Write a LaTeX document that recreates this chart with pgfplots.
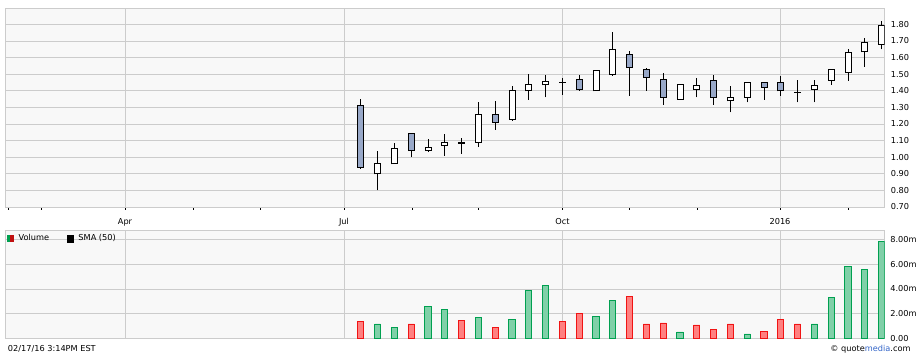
\documentclass[border=0pt]{standalone}
\usepackage{fontspec}
\setmainfont{DejaVu Sans}
\usepackage{pgfplots}
\usepackage{pgfplotstable}
\pgfplotsset{compat=1.18}
\definecolor{bgc}{RGB}{248,248,248}
\definecolor{gridc}{RGB}{204,204,204}
\definecolor{candleblue}{RGB}{152,168,200}
\definecolor{volrfill}{RGB}{255,128,128}
\definecolor{volrdraw}{RGB}{240,20,20}
\definecolor{volgfill}{RGB}{128,208,168}
\definecolor{volgdraw}{RGB}{0,160,80}
\definecolor{qmblue}{RGB}{50,100,200}
\newcommand\lab{\fontsize{8.2}{9.5}\selectfont}

% x = horizontal position (weekly candles), o h l c = open high low close, t: 0 up, 1 down, 2 doji
\pgfplotstableread{
x     o     h     l     c     t
360.8 1.31  1.35  0.93  0.94  1
377.6 0.90  1.04  0.80  0.96  0
394.4 0.96  1.085 0.96  1.05  0
411.2 1.14  1.14  1.00  1.04  1
428.0 1.04  1.11  1.03  1.06  0
444.8 1.07  1.14  1.01  1.09  0
461.6 1.085 1.115 1.02  1.09  2
478.4 1.09  1.33  1.06  1.26  0
495.2 1.26  1.34  1.165 1.21  1
512.0 1.23  1.43  1.22  1.40  0
528.8 1.40  1.50  1.345 1.435 0
545.6 1.435 1.495 1.36  1.455 0
562.4 1.45  1.48  1.375 1.45  2
579.2 1.47  1.495 1.40  1.41  1
596.0 1.40  1.52  1.40  1.52  0
612.8 1.50  1.755 1.49  1.65  0
629.6 1.62  1.64  1.37  1.54  1
646.4 1.53  1.54  1.40  1.48  1
663.2 1.47  1.51  1.315 1.36  1
680.0 1.35  1.44  1.35  1.44  0
696.8 1.41  1.48  1.36  1.43  0
713.6 1.46  1.495 1.315 1.36  1
730.4 1.34  1.43  1.27  1.36  0
747.2 1.36  1.45  1.33  1.45  0
764.0 1.45  1.45  1.345 1.42  1
780.8 1.45  1.49  1.37  1.40  1
797.6 1.39  1.465 1.33  1.39  2
814.4 1.41  1.465 1.33  1.43  0
831.2 1.465 1.53  1.435 1.53  0
848.0 1.51  1.65  1.46  1.63  0
864.8 1.635 1.72  1.545 1.69  0
881.6 1.68  1.82  1.65  1.795 0
}\candles

% volume in millions
\pgfplotstableread{
x     v
360.8 1.40
411.2 1.16
461.6 1.45
495.2 0.89
562.4 1.40
579.2 2.04
629.6 3.41
646.4 1.16
663.2 1.24
696.8 1.08
713.6 0.75
730.4 1.16
764.0 0.59
780.8 1.56
797.6 1.16
}\volred

\pgfplotstableread{
x     v
377.6 1.16
394.4 0.91
428.0 2.61
444.8 2.37
478.4 1.69
512.0 1.53
528.8 3.87
545.6 4.30
596.0 1.80
612.8 3.06
680.0 0.51
747.2 0.35
814.4 1.16
831.2 3.33
848.0 5.83
864.8 5.59
881.6 7.82
}\volgreen

\begin{document}
\begin{tikzpicture}
\useasboundingbox (0,0) rectangle (920pt,358pt);

% ---------- price panel ----------
\begin{axis}[
  at={(5.5pt,151pt)}, anchor=south west,
  scale only axis, width=879.2pt, height=198.7pt,
  xmin=5.5, xmax=884.7, ymin=0.70, ymax=1.897,
  axis background/.style={fill=bgc},
  axis line style={draw=gridc, line width=0.8pt},
  grid style={draw=gridc, line width=0.8pt},
  ymajorgrids, xmajorgrids,
  ytick={0.7,0.8,0.9,1.0,1.1,1.2,1.3,1.4,1.5,1.6,1.7,1.8},
  yticklabels={0.70,0.80,0.90,1.00,1.10,1.20,1.30,1.40,1.50,1.60,1.70,1.80},
  yticklabel pos=right,
  yticklabel style={anchor=west, inner sep=0pt, xshift=6pt, font=\lab},
  ytick style={draw=none},
  xtick={125,344,562.5,780},
  xticklabels={Apr,Jul,Oct,2016},
  minor xtick={8,41,193,260,412,478,629,697,848},
  xtick pos=left, xtick align=outside,
  major tick length=3pt, minor tick length=3pt,
  xtick style={draw=black, line width=0.8pt},
  minor x tick style={draw=black, line width=0.8pt},
  xticklabel style={anchor=base, inner sep=0pt, yshift=-14.5pt, font=\lab},
  every axis plot/.append style={draw=none, mark=none},
]
% wicks
\addplot[draw=none, mark=none, error bars/.cd, y dir=plus, y explicit, error mark=none,
  error bar style={draw=black, line width=1pt}]
  table[x=x, y=l, y error plus expr=\thisrow{h}-\thisrow{l}] {\candles};
% body outlines
\addplot[draw=none, mark=none, error bars/.cd, y dir=plus, y explicit, error mark=none,
  error bar style={draw=black, line width=7pt}]
  table[x=x, y expr={min(\thisrow{o},\thisrow{c})-0.003},
        y error plus expr={abs(\thisrow{c}-\thisrow{o})+0.006}] {\candles};
% up bodies
\addplot[draw=none, mark=none, restrict expr to domain={\thisrow{t}}{0:0},
  error bars/.cd, y dir=plus, y explicit, error mark=none,
  error bar style={draw=white, line width=5pt}]
  table[x=x, y expr={\thisrow{o}+0.003},
        y error plus expr={\thisrow{c}-\thisrow{o}-0.006}] {\candles};
% down bodies
\addplot[draw=none, mark=none, restrict expr to domain={\thisrow{t}}{1:1},
  error bars/.cd, y dir=plus, y explicit, error mark=none,
  error bar style={draw=candleblue, line width=5pt}]
  table[x=x, y expr={\thisrow{c}+0.003},
        y error plus expr={\thisrow{o}-\thisrow{c}-0.006}] {\candles};
\end{axis}

% ---------- volume panel ----------
\begin{axis}[
  at={(5.5pt,19.7pt)}, anchor=south west,
  scale only axis, width=879.2pt, height=107.8pt,
  xmin=5.5, xmax=884.7, ymin=0, ymax=8.73,
  axis background/.style={fill=bgc},
  axis line style={draw=gridc, line width=0.8pt},
  grid style={draw=gridc, line width=0.8pt},
  ymajorgrids, xmajorgrids,
  xtick={125,344,562.5,780}, xticklabels={},
  xtick style={draw=none},
  ytick={0,2,4,6,8},
  yticklabels={0.00,2.00m,4.00m,6.00m,8.00m},
  yticklabel pos=right,
  yticklabel style={anchor=west, inner sep=0pt, xshift=5.5pt, font=\lab},
  ytick style={draw=none},
  ybar, bar width=6.2pt, bar shift=0pt,
  legend columns=2,
  legend style={at={(0,1)}, anchor=north west, xshift=1.5pt, yshift=-2.5pt,
    draw=none, fill=none, inner sep=0pt, font=\lab,
    nodes={inner sep=1.5pt},
    /tikz/every odd column/.append style={column sep=3.5pt},
    /tikz/every even column/.append style={column sep=16pt}},
]
\addlegendimage{legend image code/.code={
  \fill[volgdraw] (0pt,-3pt) rectangle (3pt,3pt);
  \fill[volrdraw!80!black] (3pt,-3pt) rectangle (6pt,3pt);}}
\addlegendentry{Volume}
\addlegendimage{legend image code/.code={
  \fill[black] (0pt,-3.2pt) rectangle (6.5pt,3.2pt);}}
\addlegendentry{SMA (50)}
\addplot[forget plot, fill=volrfill, draw=volrdraw, line width=0.9pt] table[x=x, y=v] {\volred};
\addplot[forget plot, fill=volgfill, draw=volgdraw, line width=0.9pt] table[x=x, y=v] {\volgreen};
\end{axis}

% footer
\node[anchor=base west, inner sep=0pt, font=\lab] at (7.7pt,6pt) {02/17/16 3:14PM EST};
\node[anchor=base east, inner sep=0pt, font=\lab] at (910.7pt,6.3pt) {© quote\textcolor{qmblue}{media}.com};
\end{tikzpicture}
\end{document}
